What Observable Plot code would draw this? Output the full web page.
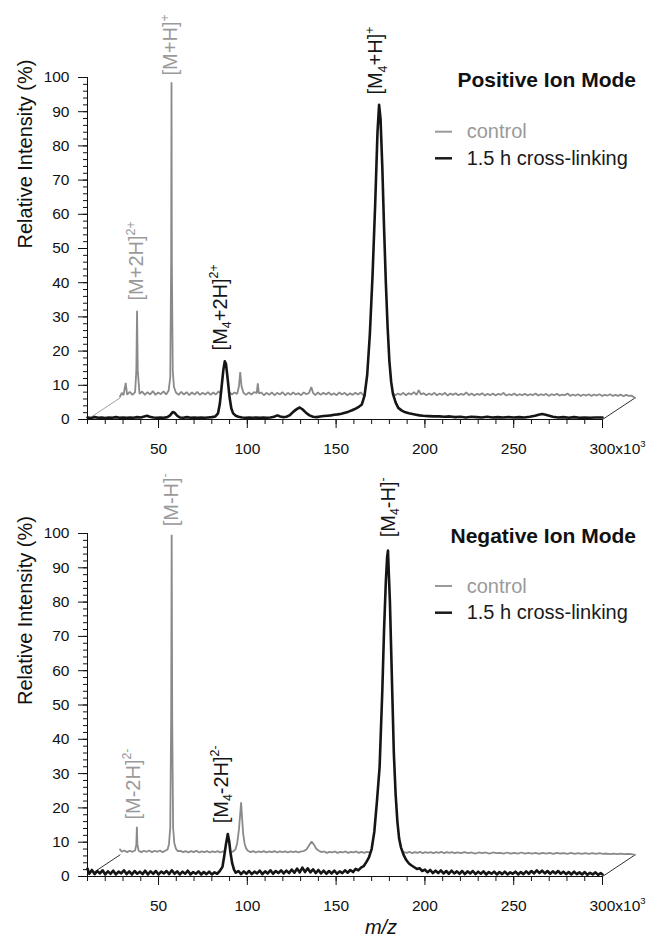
<!DOCTYPE html>
<html><head><meta charset="utf-8">
<script src="https://cdn.jsdelivr.net/npm/d3@7"></script>
<script src="https://cdn.jsdelivr.net/npm/@observablehq/plot@0.6"></script>
<style>
body{margin:0;background:#fff;}
#chart{position:relative;width:649px;height:936px;}
#chart svg{position:absolute;left:0;display:block;}
</style></head><body><div id="chart"></div><script>
// ---------- data ----------
const xDomain = [10, 300];
const yTicks = [0, 10, 20, 30, 40, 50, 60, 70, 80, 90, 100];
const yMinor = [0,2,4,6,8,10,12,14,16,18,20,22,24,26,28,30,32,34,36,38,40,42,44,46,48,50,52,54,56,58,60,62,64,66,68,70,72,74,76,78,80,82,84,86,88,90,92,94,96,98,100];
const xMajor = [50, 100, 150, 200, 250, 300];
const xMinor = [10,20,30,40,50,60,70,80,90,100,110,120,130,140,150,160,170,180,190,200,210,220,230,240,250,260,270,280,290,300];
const xTickLabels = ["50", "100", "150", "200", "250", "300x10^{3}"];
const yTitle = "Relative Intensity (%)";
const xTitle = "m/z";
const panelTitles = ["Positive Ion Mode", "Negative Ion Mode"];
const legendLabels = ["control", "1.5 h cross-linking"];
// pseudo-3D depth offset of the control (back) trace, in axis units
const DEPTH_DX = 18.3, DEPTH_DY = 6.3;

// Positive ion mode: control (back trace, own m/z and intensity)
const posControl = [[10,0.4],[11,1.5],[12,0.8],[13.2,4.4],[14,1.0],[15.5,1.8],[17,0.9],[18.5,1.7],[19.2,8],[19.6,25.5],[20,8],[21,1.2],[22.5,1.9],[24,0.9],[25.5,1.7],[27,1.0],[28.5,2.0],[30,0.9],[31.5,1.6],[33,1.1],[34.5,1.9],[36,1.0],[37.4,2.2],[38.3,6],[38.8,40],[39.0,92.3],[39.2,40],[39.7,8],[40.4,3.2],[41.5,1.6],[43,0.9],[44.5,1.8],[46,1.0],[47.5,1.7],[49,0.8],[50.5,1.6],[52,1.0],[53.5,1.8],[55,0.9],[56.5,1.5],[58,1.0],[59.5,1.7],[61,0.9],[62.5,1.6],[64,1.0],[65.5,1.9],[67,1.1],[68.5,1.6],[70,0.9],[71.5,1.7],[73,1.0],[74.5,1.6],[76,1.2],[77,3.5],[77.7,7.6],[78.4,3.5],[79.5,1.5],[81,0.9],[82.5,1.6],[84,1.0],[85.5,1.7],[87,1.4],[87.6,4.3],[88.2,1.3],[89.5,1.6],[91,0.8],[92.5,1.5],[94,0.9],[95.5,1.6],[97,0.8],[98.5,1.5],[100,1.0],[101.5,1.7],[103,0.8],[104.5,1.5],[106,0.9],[107.5,1.6],[109,1.0],[110.5,1.4],[112,0.8],[113.5,1.6],[115,1.1],[116.5,1.5],[117.7,3.2],[118.8,1.4],[120,0.8],[121.5,1.6],[123,0.9],[124.5,1.5],[126,1.0],[127.5,1.6],[129,0.9],[130.5,1.4],[132,0.8],[133.5,1.6],[135,1.0],[136.5,1.5],[138,0.8],[139.5,1.4],[141,0.9],[142.5,1.5],[144,1.0],[145.5,1.6],[147,0.8],[148.5,1.4],[150,0.9],[151.5,1.5],[153,0.8],[154.5,1.4],[156,1.0],[157.5,1.6],[159,0.8],[160.5,1.4],[162,0.9],[163.5,1.5],[165,0.8],[166.5,1.3],[168,0.9],[169.5,1.5],[171,0.8],[172.5,1.4],[174,1.0],[175.5,1.7],[177,0.9],[178.2,2.3],[179.5,1.0],[181,1.4],[182.5,0.8],[184,1.3],[185.5,0.9],[187,1.5],[188.5,0.8],[190,1.3],[191.5,0.9],[193,1.5],[194.5,0.7],[196,1.3],[197.5,0.9],[199,1.4],[200.5,0.8],[202,1.2],[203.5,0.9],[205,1.6],[206.5,0.8],[208,1.3],[209.5,0.7],[211,1.2],[212.5,0.9],[214,1.4],[215.5,0.7],[217,1.2],[218.5,0.8],[220,1.3],[221.5,0.7],[223,1.2],[224.5,0.9],[226,1.5],[227.5,0.7],[229,1.1],[230.5,0.8],[232,1.3],[233.5,0.7],[235,1.1],[236.5,0.8],[238,1.2],[239.5,0.7],[241,1.1],[242.5,0.8],[244,1.3],[245.5,0.7],[247,1.1],[248.5,0.8],[250,1.2],[251.5,0.6],[253,1.1],[254.5,0.8],[256,1.2],[257.5,0.7],[259,1.0],[260.5,0.8],[262,1.3],[263.5,0.6],[265,1.0],[266.5,0.7],[268,1.1],[269.5,0.6],[271,1.0],[272.5,0.7],[274,1.1],[275.5,0.6],[277,1.0],[278.5,0.7],[280,1.1],[281.5,0.6],[283,0.9],[284.5,0.7],[286,1.1],[287.5,0.6],[289,0.9],[290.5,0.6],[292,1.0],[293.5,0.5],[295,0.9],[296.5,0.6],[298,0.7],[300,0.0]];

// Positive ion mode: 1.5 h cross-linking (front trace)
const posCross = [[10,0.6],[12,0.4],[14,0.7],[16,0.5],[18,0.6],[20,0.4],[22,0.6],[24,0.5],[26,0.7],[28,0.5],[30,0.6],[32,0.5],[34,0.6],[36,0.5],[38,0.7],[40,0.6],[42,0.9],[43.5,1.1],[45,0.8],[47,0.6],[49,0.5],[51,0.6],[53,0.5],[55,0.7],[56.5,1.2],[58,2.2],[59,2.0],[60.5,1.1],[62,0.6],[64,0.5],[66,0.7],[68,0.5],[70,0.6],[72,0.5],[74,0.6],[76,0.5],[78,0.6],[80,0.7],[82,0.9],[83.5,1.8],[84.5,4.5],[85.5,9.5],[86.5,14.5],[87.3,17.0],[88,16.2],[89,11.5],[90,6.5],[91,3.2],[92,1.8],[93.5,1.1],[95,0.8],[97,0.6],[99,0.5],[101,0.6],[103,0.5],[105,0.6],[107,0.5],[109,0.6],[111,0.5],[113,0.6],[115,0.8],[117,1.2],[118.5,0.9],[120,0.7],[122,0.8],[124,1.3],[126,2.3],[128,3.1],[129.5,3.5],[131,3.0],[133,2.0],[135,1.2],[137,0.8],[139,0.7],[141,0.9],[143,1.0],[145,1.1],[147,1.2],[149,1.4],[151,1.5],[153,1.7],[155,2.0],[157,2.3],[159,2.7],[161,3.2],[163,3.8],[164.5,4.4],[166,7.0],[167.5,13],[169,25],[170.5,42],[172,63],[173.3,84],[174.2,92],[175,88],[176,74],[177,56],[178,40],[179,27],[180,17],[181,11],[182,7.5],[183.5,5.0],[185,3.4],[187,2.6],[189,2.1],[191,1.8],[193,1.6],[195,1.4],[197,1.2],[199,1.1],[202,1.0],[205,0.9],[208,0.9],[211,0.8],[214,0.9],[217,0.7],[220,0.8],[223,0.6],[226,0.8],[229,0.7],[232,0.6],[235,0.8],[238,0.6],[241,0.7],[244,0.6],[247,0.7],[250,0.6],[253,0.7],[256,0.6],[259,0.8],[262,1.1],[264,1.4],[266,1.6],[268,1.4],[270,1.1],[272,0.8],[275,0.6],[278,0.7],[281,0.5],[284,0.7],[287,0.5],[290,0.6],[293,0.5],[296,0.6],[300,0.6]];

// Negative ion mode: control
const negControl = [[10,1.6],[11,0.9],[12.5,1.3],[14,0.8],[15.5,1.2],[17,0.9],[18.5,1.3],[19.2,3],[19.5,8.2],[19.8,3],[20.5,1.2],[22,0.8],[23.5,1.2],[25,0.9],[26.5,1.3],[28,0.8],[29.5,1.2],[31,0.9],[32.5,1.3],[34,0.8],[35.5,1.2],[36.8,1.6],[37.6,3.2],[38.3,8],[38.8,40],[39.1,93.3],[39.4,40],[39.9,8],[40.6,3.4],[41.5,1.8],[42.5,1.1],[44,1.2],[45.5,0.8],[47,1.1],[48.5,0.7],[50,1.1],[51.5,0.8],[53,1.2],[54.5,0.7],[56,1.0],[57.5,0.8],[59,1.1],[60.5,0.7],[62,1.0],[63.5,0.8],[65,1.1],[66.5,0.7],[68,1.0],[69.5,0.8],[71,1.0],[72.5,0.7],[74,1.1],[75,1.6],[76,3.4],[77,7.5],[77.7,12],[78.2,15.3],[78.7,11],[79.4,6],[80.2,3.2],[81,1.9],[82,1.2],[83.5,0.8],[85,1.1],[86.5,0.7],[88,1.0],[89.5,0.8],[91,1.1],[92.5,0.7],[94,1.0],[95.5,0.8],[97,1.1],[98.5,0.7],[100,1.0],[101.5,0.8],[103,1.0],[104.5,0.7],[106,1.0],[107.5,0.8],[109,1.0],[110.5,0.7],[112,1.0],[113.5,1.1],[115,1.6],[116.5,2.8],[117.9,3.9],[119.2,3.0],[120.5,1.8],[122,1.2],[123.5,0.8],[125,1.0],[126.5,0.6],[128,0.9],[129.5,0.7],[131,1.0],[132.5,0.6],[134,0.9],[135.5,0.7],[137,1.0],[138.5,0.6],[140,0.9],[141.5,0.7],[143,1.0],[144.5,0.6],[146,0.9],[147.5,0.6],[149,0.9],[150.5,0.7],[152,1.0],[153.5,0.6],[155,0.8],[156.5,0.6],[158,0.9],[159.5,0.6],[161,0.9],[162.5,0.6],[164,0.8],[165.5,0.6],[167,0.9],[168.5,0.6],[170,0.8],[171.5,0.6],[173,0.9],[174.5,0.5],[176,0.8],[177.5,0.6],[179,0.9],[180.5,0.5],[182,0.8],[183.5,0.6],[185,0.8],[186.5,0.5],[188,0.8],[189.5,0.6],[191,0.9],[192.5,0.5],[194,0.8],[195.5,0.6],[197,0.8],[198.5,0.5],[200,0.7],[202,0.5],[204,0.8],[206,0.5],[208,0.7],[210,0.4],[212,0.7],[214,0.5],[216,0.7],[218,0.4],[220,0.7],[222,0.5],[224,0.6],[226,0.4],[228,0.7],[230,0.4],[232,0.6],[234,0.4],[236,0.7],[238,0.4],[240,0.6],[242,0.4],[244,0.6],[246,0.3],[248,0.6],[250,0.4],[252,0.6],[254,0.3],[256,0.6],[258,0.4],[260,0.5],[262,0.3],[264,0.6],[266,0.3],[268,0.5],[270,0.3],[272,0.5],[274,0.3],[276,0.5],[278,0.3],[280,0.5],[282,0.3],[284,0.4],[286,0.2],[288,0.4],[290,0.2],[292,0.4],[294,0.2],[296,0.3],[298,0.2],[300,0.0]];

// Negative ion mode: 1.5 h cross-linking
const negCross = [[10,2.3],[11,0.8],[12.5,1.9],[14,0.7],[15.5,1.6],[17,0.9],[18.5,1.8],[20,0.6],[21.5,1.5],[23,0.8],[24.5,1.7],[26,0.6],[27.5,1.4],[29,0.9],[30.5,1.8],[32,0.7],[33.5,1.5],[35,0.6],[36.5,1.6],[38,0.8],[39.5,1.4],[41,0.7],[42.5,1.7],[44,0.6],[45.5,1.5],[47,0.8],[48.5,1.6],[50,0.6],[51.5,1.4],[53,0.9],[54.5,1.6],[56,0.7],[57.5,1.8],[59,0.8],[60.5,1.5],[62,0.6],[63.5,1.4],[65,0.8],[66.5,1.7],[68,0.6],[69.5,1.3],[71,0.8],[72.5,1.5],[74,0.6],[75.5,1.3],[77,0.7],[78.5,1.4],[80,0.6],[81.5,1.2],[83,0.8],[84.5,1.6],[86,2.8],[87,6],[88,9.5],[89,12.4],[89.7,10.5],[90.5,7],[91.5,3.8],[92.5,2],[93.5,1.1],[95,1.6],[96.5,0.7],[98,1.5],[99.5,0.8],[101,1.6],[102.5,0.7],[104,1.4],[105.5,0.9],[107,1.7],[108.5,0.7],[110,1.5],[111.5,0.9],[113,1.8],[114.5,0.8],[116,1.6],[117.5,1.0],[119,1.8],[120.5,0.9],[122,1.7],[123.5,1.0],[125,2.0],[126.5,1.1],[128,2.3],[129.5,1.2],[131,2.6],[132.5,1.3],[134,2.4],[135.5,1.2],[137,2.1],[138.5,1.0],[140,1.9],[141.5,0.9],[143,1.7],[144.5,0.8],[146,1.6],[147.5,0.9],[149,1.7],[150.5,0.8],[152,1.5],[153.5,1.0],[155,1.8],[156.5,1.1],[158,1.9],[159.5,1.3],[161,2.2],[162.5,1.8],[164,2.6],[165.5,3.0],[167,4.2],[168.5,5.6],[170,8],[171.5,13],[173,22],[174.5,32],[176,54],[177,72],[178,86],[178.7,93],[179.2,95],[179.7,88],[180.3,80],[181,66],[181.7,52],[182.5,36],[183.5,24],[184.5,16],[185.5,11],[186.5,8.5],[188,6.3],[189.5,4.8],[191,3.8],[192.5,3.2],[194,2.7],[195.5,2.2],[197,2.4],[198.5,1.6],[200,2.0],[201.5,1.2],[203,1.9],[204.5,1.0],[206,1.7],[207.5,1.0],[209,1.8],[210.5,0.9],[212,1.6],[213.5,0.8],[215,1.7],[216.5,0.9],[218,1.5],[219.5,0.8],[221,1.6],[222.5,0.7],[224,1.5],[225.5,0.9],[227,1.6],[228.5,0.7],[230,1.4],[231.5,0.8],[233,1.5],[234.5,0.6],[236,1.3],[237.5,0.8],[239,1.4],[240.5,0.6],[242,1.3],[243.5,0.7],[245,1.4],[246.5,0.6],[248,1.2],[249.5,0.8],[251,1.4],[252.5,0.6],[254,1.3],[255.5,0.7],[257,1.5],[258.5,0.8],[260,1.6],[261.5,0.9],[263,1.8],[264.5,1.0],[266,1.7],[267.5,0.9],[269,1.6],[270.5,0.8],[272,1.5],[273.5,0.9],[275,1.6],[276.5,0.8],[278,1.4],[279.5,0.7],[281,1.3],[282.5,0.6],[284,1.4],[285.5,0.7],[287,1.2],[288.5,0.6],[290,1.3],[291.5,0.5],[293,1.1],[294.5,0.6],[296,1.2],[297.5,0.5],[299,1.0],[300,0.6]];

// Peak annotations (axis m/z, intensity where the label starts)
const posLabels = [
  {text: "[M+2H]^{2+}", x: 37.7, y: 34.8, series: "control"},
  {text: "[M+H]^{+}", x: 56.9, y: 100.6, series: "control"},
  {text: "[M_{4}+2H]^{2+}", x: 84.8, y: 20.2, series: "cross"},
  {text: "[M_{4}+H]^{+}", x: 172.5, y: 95.0, series: "cross"}
];
const negLabels = [
  {text: "[M-2H]^{2-}", x: 35.8, y: 16.6, series: "control"},
  {text: "[M-H]^{-}", x: 57.3, y: 102.1, series: "control"},
  {text: "[M_{4}-2H]^{2-}", x: 85.4, y: 15.5, series: "cross"},
  {text: "[M_{4}-H]^{-}", x: 179.5, y: 98.9, series: "cross"}
];

(function () {
// ---------- styles ----------
const FONT = '"Liberation Sans", Arial, Helvetica, sans-serif';
const GRAY = "#8a8a8a", GRAY_TEXT = "#9a9a9a", BLACK = "#151515";

function panel({control, cross, labels, height, marginTop, marginBottom, showXTitle, floorColors}) {
  const floor = xDomain.map(x0 => [[x0, 0], [x0 + DEPTH_DX, DEPTH_DY]]);
  return Plot.plot({
    width: 649, height, marginLeft: 87, marginRight: 47, marginTop, marginBottom,
    x: {domain: xDomain}, y: {domain: [0, 100]},
    style: {fontFamily: FONT, background: "transparent", color: "#111", overflow: "visible"},
    marks: [
      Plot.line(floor[0], {x: d => d[0], y: d => d[1], stroke: floorColors[0], strokeWidth: 1}),
      Plot.line(floor[1], {x: d => d[0], y: d => d[1], stroke: floorColors[1], strokeWidth: 1}),
      Plot.line(control, {x: d => d[0] + DEPTH_DX, y: d => d[1] + DEPTH_DY, stroke: GRAY, strokeWidth: 1.8, strokeLinejoin: "miter"}),
      Plot.areaY(cross, {x: d => d[0], y: d => d[1], fill: "white"}),
      Plot.line(cross, {x: d => d[0], y: d => d[1], stroke: BLACK, strokeWidth: 2.6}),
      Plot.ruleX([xDomain[0]], {y1: 0, y2: 100, stroke: "#111"}),
      Plot.ruleY([0], {x1: xDomain[0], x2: xDomain[1], stroke: "#111"}),
      Plot.axisY({ticks: yMinor, tickSize: 4, fill: "none", label: null}),
      Plot.axisY({ticks: yTicks, tickSize: 9, tickPadding: 9, fontSize: 15.5, label: null}),
      Plot.axisX({ticks: xMinor, tickSize: 5, fill: "none", label: null}),
      Plot.axisX({ticks: xMajor, tickSize: 9, fill: "none", label: null}),
      Plot.axisX({ticks: xMajor.slice(0, -1), tickSize: 0, tickPadding: 23, fontSize: 15.5,
        tickFormat: (d, i) => xTickLabels[i], label: null}),
      Plot.text([xMajor[xMajor.length - 1]], {x: d => d, frameAnchor: "bottom",
        text: () => xTickLabels[xTickLabels.length - 1], textAnchor: "start", lineAnchor: "top",
        dx: -13, dy: 23, fontSize: 15.5}),
      Plot.text([yTitle], {frameAnchor: "left", rotate: -90, dx: -62, fontSize: 20}),
      Plot.text(labels.filter(d => d.series === "control"), {x: "x", y: "y", text: "text",
        fill: GRAY_TEXT, rotate: -90, textAnchor: "start", fontSize: 20}),
      Plot.text(labels.filter(d => d.series === "cross"), {x: "x", y: "y", text: "text",
        fill: BLACK, rotate: -90, textAnchor: "start", fontSize: 20}),
      showXTitle ? Plot.text([xTitle], {frameAnchor: "bottom", dx: 36, dy: 43, lineAnchor: "top",
        fontStyle: "italic", fontSize: 20}) : null
    ]
  });
}

function addTitleLegend(svg, title, titleBaseline, dashYs) {
  const s = d3.select(svg).append("g").attr("font-family", FONT);
  s.append("text").attr("x", 636).attr("y", titleBaseline).attr("text-anchor", "end")
    .attr("font-size", 21).attr("font-weight", "bold").attr("fill", "#111").text(title);
  const colors = [GRAY_TEXT, "#1a1a1a"], widths = [2, 2.5];
  legendLabels.forEach((lab, i) => {
    s.append("line").attr("x1", 435).attr("x2", 452).attr("y1", dashYs[i]).attr("y2", dashYs[i])
      .attr("stroke", colors[i]).attr("stroke-width", widths[i]);
    s.append("text").attr("x", 466.7).attr("y", dashYs[i] + 6.6).attr("font-size", 20)
      .attr("text-anchor", "start").attr("fill", colors[i]).text(lab);
  });
}

function richify(svg) {
  const ns = "http://www.w3.org/2000/svg";
  svg.querySelectorAll("text").forEach(t => {
    const s = t.textContent;
    if (!/[_^]\{/.test(s) || t.querySelector("tspan")) return;
    const fs = parseFloat(getComputedStyle(t).fontSize) || 16;
    while (t.firstChild) t.removeChild(t.firstChild);
    let shift = 0;
    s.split(/([_^]\{[^}]*\})/).filter(p => p).forEach(p => {
      const ts = document.createElementNS(ns, "tspan");
      let target = 0, txt = p, small = false;
      if (p.startsWith("^{")) { target = -0.42 * fs; txt = p.slice(2, -1); small = true; }
      else if (p.startsWith("_{")) { target = 0.22 * fs; txt = p.slice(2, -1); small = true; }
      ts.setAttribute("dy", (target - shift).toFixed(2));
      shift = target;
      if (small) ts.setAttribute("font-size", (0.62 * fs).toFixed(1));
      ts.textContent = txt;
      t.appendChild(ts);
    });
  });
}

const root = document.getElementById("chart");
const topPanel = panel({control: posControl, cross: posCross, labels: posLabels, height: 460,
  marginTop: 77, marginBottom: 41, showXTitle: false, floorColors: ["#a0a0a0", "#333"]});
topPanel.style.top = "0px";
root.appendChild(topPanel);
addTitleLegend(topPanel, panelTitles[0], 87.3, [131.7, 158.3]);

const bottomPanel = panel({control: negControl, cross: negCross, labels: negLabels, height: 476,
  marginTop: 73, marginBottom: 60, showXTitle: true, floorColors: ["#333", "#333"]});
bottomPanel.style.top = "460px";
root.appendChild(bottomPanel);
addTitleLegend(bottomPanel, panelTitles[1], 82.7, [126, 152.7]);

richify(topPanel);
richify(bottomPanel);
})();
</script></body></html>
